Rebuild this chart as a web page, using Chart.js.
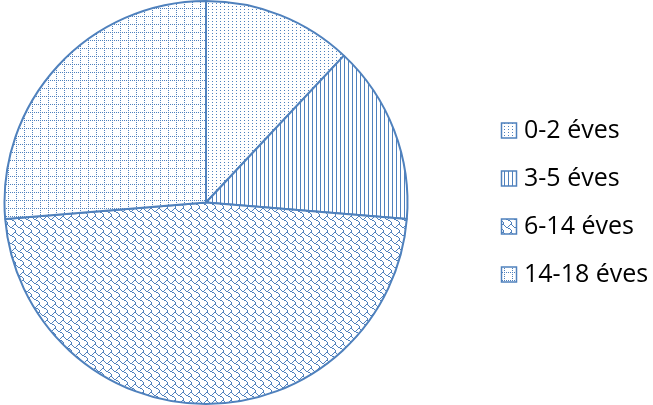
<!DOCTYPE html>
<html lang="hu">
<head>
<meta charset="utf-8">
<script src="https://cdn.jsdelivr.net/npm/chart.js@4"></script>
<style>
  html, body { margin: 0; padding: 0; background: #fff; }
  #wrap { width: 653px; height: 405px; }
</style>
</head>
<body>
<div id="wrap"><canvas id="korcsoport"></canvas></div>
<script>
// Korcsoportok megoszlasa (szazalek)
const categories = ['0-2 éves', '3-5 éves', '6-14 éves', '14-18 éves'];
const shares = [12.0, 14.3, 47.4, 26.3];

const kek = '#4F81BD';

// kis pixel-mintak, mint az Office mintazatos kitoltesei
const mintak = [
  ['#...', '....', '....'],                                                 // pontok
  ['#...'],                                                                 // fuggoleges vonalak
  ['......##', '#....#..', '.#..#...', '..##....', '....##..', '......#.', '.......#', '.......#'], // pikkely
  ['#.#.#.#.', '........', '#.......', '........', '#.......', '........', '#.......', '........']  // pontozott racs
];

function mintazat(sorok) {
  const c = document.createElement('canvas');
  c.width = sorok[0].length;
  c.height = sorok.length;
  const g = c.getContext('2d');
  g.fillStyle = '#fff';
  g.fillRect(0, 0, c.width, c.height);
  g.fillStyle = kek;
  sorok.forEach((sor, y) => {
    for (let x = 0; x < sor.length; x++) {
      if (sor[x] === '#') g.fillRect(x, y, 1, 1);
    }
  });
  return g.createPattern(c, 'repeat');
}

// jelmagyarazat a kor jobb oldalan
const oldalLegenda = {
  id: 'oldalLegenda',
  afterDraw(chart, args, opts) {
    const { ctx, chartArea } = chart;
    const ds = chart.data.datasets[0];
    const n = chart.data.labels.length;
    const x = chartArea.right + opts.offsetX;
    const cy = (chartArea.top + chartArea.bottom) / 2;
    ctx.save();
    ctx.font = opts.font;
    ctx.textBaseline = 'middle';
    chart.data.labels.forEach((label, i) => {
      const y = cy + (i - (n - 1) / 2) * opts.step;
      ctx.fillStyle = ds.backgroundColor[i];
      ctx.fillRect(x, y - opts.box / 2, opts.box, opts.box);
      ctx.lineWidth = 1.5;
      ctx.strokeStyle = kek;
      ctx.strokeRect(x, y - opts.box / 2, opts.box, opts.box);
      ctx.fillStyle = '#000';
      ctx.fillText(label, x + opts.box + opts.gap, y);
    });
    ctx.restore();
  }
};

new Chart(document.getElementById('korcsoport'), {
  type: 'pie',
  data: {
    labels: categories,
    datasets: [{
      data: shares,
      backgroundColor: mintak.map(mintazat),
      borderColor: kek,
      borderWidth: 2
    }]
  },
  options: {
    responsive: true,
    maintainAspectRatio: false,
    devicePixelRatio: 1,
    animation: false,
    layout: { padding: { right: 241 } },
    plugins: {
      legend: { display: false },
      tooltip: { enabled: false },
      oldalLegenda: { offsetX: 89.5, step: 48, box: 15, gap: 7.5, font: '25px "Open Sans"' }
    }
  },
  plugins: [oldalLegenda]
});
</script>
</body>
</html>
